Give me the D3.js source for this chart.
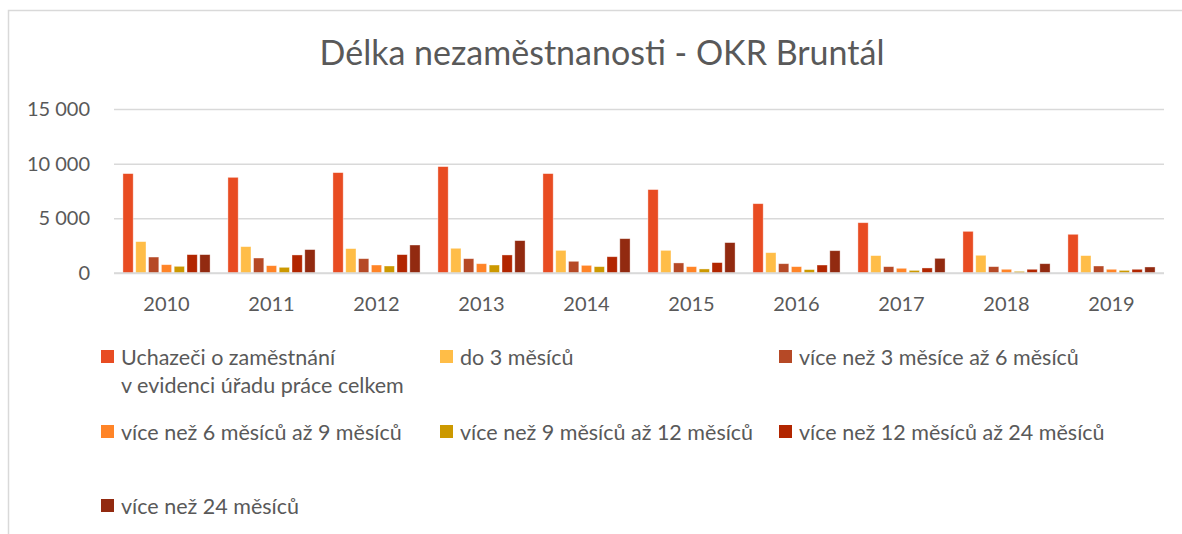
<!DOCTYPE html>
<html>
<head>
<meta charset="utf-8">
<script src="https://cdn.jsdelivr.net/npm/d3@7"></script>
<style>
  body { margin: 0; background: #fff; }
  text { font-family: Lato, "Open Sans", sans-serif; fill: #595959; }
</style>
</head>
<body>
<div id="chart"></div>
<script>
// data
var years = ["2010", "2011", "2012", "2013", "2014", "2015", "2016", "2017", "2018", "2019"];
var seriesNames = [
  "Uchazeči o zaměstnání\nv evidenci úřadu práce celkem",
  "do 3 měsíců",
  "více než 3 měsíce až 6 měsíců",
  "více než 6 měsíců až 9 měsíců",
  "více než 9 měsíců až 12 měsíců",
  "více než 12 měsíců až 24 měsíců",
  "více než 24 měsíců"
];
var celkem   = [9090, 8750, 9180, 9730, 9090, 7630, 6340, 4600, 3810, 3540];
var do3      = [2870, 2410, 2230, 2260, 2070, 2070, 1860, 1590, 1620, 1590];
var m3az6    = [1460, 1370, 1310, 1310, 1070, 920, 850, 580, 580, 640];
var m6az9    = [760, 670, 730, 850, 700, 580, 580, 430, 340, 340];
var m9az12   = [610, 520, 640, 730, 580, 370, 310, 240, 150, 240];
var m12az24  = [1680, 1650, 1680, 1650, 1490, 950, 730, 460, 340, 340];
var nad24    = [1680, 2140, 2560, 2960, 3140, 2780, 2040, 1340, 850, 550];
var yTicks = [0, 5000, 10000, 15000];

var seriesValues = [celkem, do3, m3az6, m6az9, m9az12, m12az24, nad24];
var colors = ["#E84C22", "#FFBD47", "#B64926", "#FF8427", "#CC9900", "#B22600", "#922A10"];

var width = 1182, height = 534;
var plot = {left: 114, right: 1164, top: 109, bottom: 273};

var svg = d3.select("#chart").append("svg")
    .attr("width", width)
    .attr("height", height);

// chart frame (cut off at right and bottom)
svg.append("rect")
    .attr("x", 8.5).attr("y", 10.5)
    .attr("width", 1300).attr("height", 600)
    .attr("fill", "none")
    .attr("stroke", "#d9d9d9")
    .attr("stroke-width", 1.5);

svg.append("text")
    .attr("x", 602).attr("y", 65)
    .attr("text-anchor", "middle")
    .style("font-size", "34px")
    .text("Délka nezaměstnanosti - OKR Bruntál");

var x0 = d3.scaleBand()
    .domain(years)
    .range([plot.left, plot.right])
    .paddingInner(0.17)
    .paddingOuter(0.085);

var x1 = d3.scaleBand()
    .domain(d3.range(seriesNames.length))
    .range([0, x0.bandwidth()])
    .paddingInner(0.2);

var y = d3.scaleLinear()
    .domain([0, 15000])
    .range([plot.bottom, plot.top]);

var fmt = function(d) { return d3.format(",")(d).replace(/,/g, " "); };

// gridlines + y labels
var yAxis = svg.append("g")
    .attr("transform", "translate(" + plot.left + ",0)")
    .call(d3.axisLeft(y).tickValues(yTicks).tickSize(-(plot.right - plot.left)).tickPadding(24).tickFormat(fmt));
yAxis.select(".domain").remove();
yAxis.selectAll(".tick line").attr("stroke", "#d9d9d9").attr("stroke-width", 1.5);
yAxis.selectAll(".tick text").style("font-size", "20px").attr("fill", "#595959");

// bars
var groups = svg.selectAll("g.year")
    .data(years)
  .enter().append("g")
    .attr("class", "year")
    .attr("transform", function(d) { return "translate(" + x0(d) + ",0)"; });

groups.selectAll("rect")
    .data(function(d, i) {
      return seriesValues.map(function(s, k) { return {k: k, v: s[i]}; });
    })
  .enter().append("rect")
    .attr("x", function(d) { return x1(d.k); })
    .attr("width", x1.bandwidth())
    .attr("y", function(d) { return y(d.v); })
    .attr("height", function(d) { return y(0) - y(d.v); })
    .attr("fill", function(d) { return colors[d.k]; })
    .attr("stroke", "#fff")
    .attr("stroke-opacity", 0.5)
    .attr("stroke-width", 0.75);

// baseline on top of bars
svg.append("line")
    .attr("x1", plot.left).attr("x2", plot.right)
    .attr("y1", y(0)).attr("y2", y(0))
    .attr("stroke", "#d9d9d9").attr("stroke-width", 1.5);

// x labels
var xAxis = svg.append("g")
    .attr("transform", "translate(0," + plot.bottom + ")")
    .call(d3.axisBottom(x0).tickSize(0).tickPadding(24));
xAxis.select(".domain").remove();
xAxis.selectAll(".tick text").style("font-size", "20px").attr("fill", "#595959");

// legend
var legendCols = [101, 440, 779];
var legendRows = [357, 432, 506];
var legend = svg.selectAll("g.legend")
    .data(seriesNames)
  .enter().append("g")
    .attr("class", "legend")
    .attr("transform", function(d, i) {
      return "translate(" + legendCols[i % 3] + "," + legendRows[Math.floor(i / 3)] + ")";
    });

legend.append("rect")
    .attr("x", 0).attr("y", -7)
    .attr("width", 13).attr("height", 13)
    .attr("fill", function(d, i) { return colors[i]; });

legend.append("text")
    .attr("x", 20)
    .attr("y", 0)
    .style("font-size", "21.5px")
    .each(function(d) {
      var t = d3.select(this);
      d.split("\n").forEach(function(line, j) {
        t.append("tspan").attr("x", 20).attr("dy", j === 0 ? "0.35em" : "28px").text(line);
      });
    });
</script>
</body>
</html>
